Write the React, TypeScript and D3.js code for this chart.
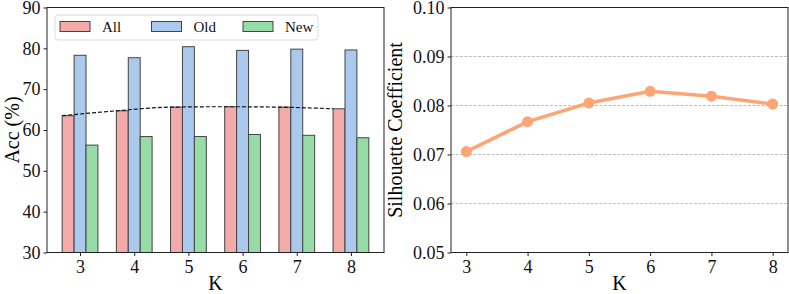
import { useEffect, useRef } from "react";
import * as d3 from "d3";

const ks = [3, 4, 5, 6, 7, 8];
const accAll = [63.5, 64.7, 65.6, 65.7, 65.6, 65.2];
const accOld = [78.3, 77.7, 80.4, 79.5, 79.8, 79.6];
const accNew = [56.3, 58.4, 58.4, 58.9, 58.7, 58.1];
const seriesNames = ["All", "Old", "New"];
const seriesColors = ["#f4aaa8", "#abc9ec", "#97dba6"];
const accTicks = [30, 40, 50, 60, 70, 80, 90];
const silhouette = [0.0706, 0.0767, 0.0805, 0.0829, 0.0819, 0.0803];
const silTicks = [0.05, 0.06, 0.07, 0.08, 0.09, 0.10];

const W = 789;
const H = 294;
const FONT = "'Liberation Serif', 'Times New Roman', Times, serif";

export default function App() {
  const ref = useRef<SVGSVGElement>(null);

  useEffect(() => {
    const svg = d3.select(ref.current);
    svg.selectAll("*").remove();

    const top = 7.5, bottom = 252.5;

    // ---------- left: grouped bars ----------
    const L = { left: 47, right: 384 };
    const x = d3.scaleLinear().domain([2.39, 8.61]).range([L.left, L.right]);
    const y = d3.scaleLinear().domain([30, 90]).range([bottom, top]);
    const bw = 0.22;
    const groups = [accAll, accOld, accNew];

    const g1 = svg.append("g");
    groups.forEach((vals, si) => {
      g1.selectAll(null)
        .data(vals)
        .enter()
        .append("rect")
        .attr("x", (d, i) => x(ks[i] + (si - 1) * bw - bw / 2))
        .attr("y", d => y(d))
        .attr("width", x(bw) - x(0))
        .attr("height", d => y(30) - y(d))
        .attr("fill", seriesColors[si])
        .attr("stroke", "#444")
        .attr("stroke-width", 1);
    });

    // trend over the "All" bars
    const trend = d3.line<number>()
      .x((d, i) => x(ks[i] - 1.5 * bw))
      .y(d => y(d))
      .curve(d3.curveMonotoneX);
    g1.append("path")
      .attr("d", trend(accAll))
      .attr("fill", "none")
      .attr("stroke", "#111")
      .attr("stroke-width", 1.2)
      .attr("stroke-dasharray", "4,2");

    const xAx1 = g1.append("g")
      .attr("transform", `translate(0,${bottom})`)
      .call(d3.axisBottom(x).tickValues(ks).tickFormat(d3.format("d")).tickSizeOuter(0).tickSize(3.5).tickPadding(4));
    const yAx1 = g1.append("g")
      .attr("transform", `translate(${L.left},0)`)
      .call(d3.axisLeft(y).tickValues(accTicks).tickSizeOuter(0).tickSize(3.5).tickPadding(3));

    g1.append("rect")
      .attr("x", L.left).attr("y", top)
      .attr("width", L.right - L.left).attr("height", bottom - top)
      .attr("fill", "none").attr("stroke", "#222").attr("stroke-width", 1);

    // legend
    const lg = g1.append("g");
    lg.append("rect")
      .attr("x", 55).attr("y", 15).attr("width", 263).attr("height", 25)
      .attr("rx", 3).attr("fill", "white").attr("fill-opacity", 0.8)
      .attr("stroke", "#ddd");
    seriesNames.forEach((n, i) => {
      const lx = 60 + i * 91.5;
      lg.append("rect")
        .attr("x", lx).attr("y", 21.5).attr("width", 30).attr("height", 10)
        .attr("fill", seriesColors[i]).attr("stroke", "#444");
      lg.append("text")
        .attr("x", lx + 42).attr("y", 32)
        .attr("font-size", 15).attr("fill", "#111")
        .text(n);
    });

    g1.append("text")
      .attr("x", (L.left + L.right) / 2).attr("y", 290)
      .attr("text-anchor", "middle").attr("font-size", 20).text("K");
    g1.append("text")
      .attr("transform", `translate(19,${(top + bottom) / 2}) rotate(-90)`)
      .attr("text-anchor", "middle").attr("font-size", 20).text("Acc (%)");

    // ---------- right: silhouette line ----------
    const R = { left: 451, right: 788 };
    const x2 = d3.scaleLinear().domain([2.75, 8.25]).range([R.left, R.right]);
    const y2 = d3.scaleLinear().domain([0.05, 0.10]).range([bottom, top]);
    const g2 = svg.append("g");

    g2.selectAll(null)
      .data(silTicks.slice(1, -1))
      .enter()
      .append("line")
      .attr("x1", R.left).attr("x2", R.right)
      .attr("y1", d => y2(d)).attr("y2", d => y2(d))
      .attr("stroke", "#b0b0b0").attr("stroke-width", 0.8)
      .attr("stroke-dasharray", "3,1.5");

    const line = d3.line<number>().x((d, i) => x2(ks[i])).y(d => y2(d));
    g2.append("path")
      .attr("d", line(silhouette))
      .attr("fill", "none").attr("stroke", "#fca575").attr("stroke-width", 3.5);
    g2.selectAll(null)
      .data(silhouette)
      .enter()
      .append("circle")
      .attr("cx", (d, i) => x2(ks[i])).attr("cy", d => y2(d))
      .attr("r", 5.5).attr("fill", "#fca575");

    const xAx2 = g2.append("g")
      .attr("transform", `translate(0,${bottom})`)
      .call(d3.axisBottom(x2).tickValues(ks).tickFormat(d3.format("d")).tickSizeOuter(0).tickSize(3.5).tickPadding(4));
    const yAx2 = g2.append("g")
      .attr("transform", `translate(${R.left},0)`)
      .call(d3.axisLeft(y2).tickValues(silTicks).tickFormat(d3.format(".2f")).tickSizeOuter(0).tickSize(3.5).tickPadding(3));

    g2.append("rect")
      .attr("x", R.left).attr("y", top)
      .attr("width", R.right - R.left).attr("height", bottom - top)
      .attr("fill", "none").attr("stroke", "#222").attr("stroke-width", 1);

    g2.append("text")
      .attr("x", (R.left + R.right) / 2).attr("y", 290)
      .attr("text-anchor", "middle").attr("font-size", 20).text("K");
    g2.append("text")
      .attr("transform", `translate(402,${(top + bottom) / 2}) rotate(-90)`)
      .attr("text-anchor", "middle").attr("font-size", 20).text("Silhouette Coefficient");

    [xAx1, yAx1, xAx2, yAx2].forEach(ax => {
      ax.select(".domain").remove();
      ax.attr("font-family", null).attr("font-size", null);
      ax.selectAll("line").attr("stroke", "#222");
      ax.selectAll("text")
        .attr("font-size", 18)
        .attr("fill", "#111");
    });

    svg.selectAll("text").style("font-family", FONT);
  }, []);

  return (
    <svg
      ref={ref}
      width={W}
      height={H}
      style={{ position: "absolute", left: 0, top: 0, background: "white" }}
    />
  );
}
